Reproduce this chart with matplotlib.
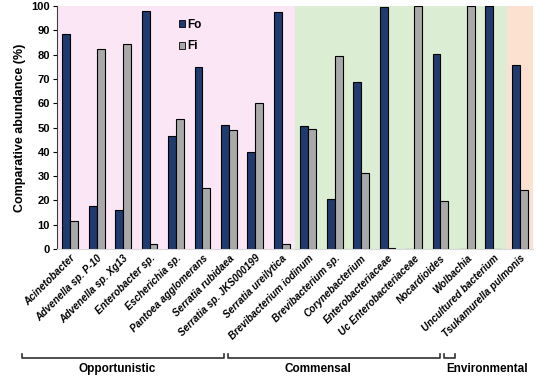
import numpy as np
import matplotlib
matplotlib.use("Agg")
import matplotlib.pyplot as plt
from matplotlib.patches import Patch

plt.rcParams['font.family'] = ['Liberation Sans', 'DejaVu Sans']
plt.rcParams['font.weight'] = 'bold'
plt.rcParams['axes.labelweight'] = 'bold'

# Data
taxa = ['Acinetobacter', 'Advenella sp. P-10', 'Advenella sp. Xg13', 'Enterobacter sp.',
        'Escherichia sp.', 'Pantoea agglomerans', 'Serratia rubidaea', 'Serratia sp. JKS000199',
        'Serratia ureilytica', 'Brevibacterium iodinum', 'Brevibacterium sp.', 'Corynebacterium',
        'Enterobacteriaceae', 'Uc Enterobacteriaceae', 'Nocardioides', 'Wolbachia',
        'Uncultured bacterium', 'Tsukamurella pulmonis']
fo = [88.5, 17.5, 16, 98, 46.5, 75, 51, 40, 97.5, 50.8, 20.4, 68.8, 99.7, 0, 80.2, 0, 100, 75.7]
fi = [11.5, 82.5, 84.3, 2, 53.5, 25, 49, 60, 2.2, 49.2, 79.5, 31.2, 0.3, 100, 19.9, 100, 0, 24.3]

groups = ['Opportunistic', 'Commensal', 'Environmental']
group_sizes = [9, 8, 1]
group_colors = ['#fbe6f5', '#dbedd3', '#fce1d1']

fig = plt.figure(figsize=(5.5, 3.83), dpi=100)
ax = fig.add_axes([57 / 550, 1 - 249 / 383, (533 - 57) / 550, (249 - 6) / 383])

x = np.arange(len(taxa)) + 0.5
w = 0.3

# shaded group backgrounds
start = 0
for size, col in zip(group_sizes, group_colors):
    ax.axvspan(start, start + size, color=col, lw=0, zorder=0)
    start += size

ax.bar(x - w / 2, fo, w, color='#1f3b6f', edgecolor='black', lw=0.8, label='Fo', zorder=2)
ax.bar(x + w / 2, fi, w, color='#a9a9a9', edgecolor='black', lw=0.8, label='Fi', zorder=2)

ax.set_xlim(0, len(taxa))
ax.set_ylim(0, 100)
ax.set_yticks(range(0, 101, 10))
ax.tick_params(axis='y', labelsize=8, length=3, width=0.8, pad=2)
for t in ax.get_yticklabels():
    t.set_fontweight('bold')
ax.set_xticks(x)
ax.set_xticklabels(taxa, rotation=45, ha='right', rotation_mode='anchor',
                   fontsize=7.2, fontstyle='italic', fontweight='bold')
ax.tick_params(axis='x', length=0, pad=3)
ax.set_ylabel('Comparative abundance (%)', fontsize=9, labelpad=4, fontweight='bold')

for s in ['top', 'right']:
    ax.spines[s].set_visible(False)
ax.spines['bottom'].set_color('#d9d9d9')
ax.spines['left'].set_color('#404040')

leg = ax.legend(handles=[Patch(facecolor='#1f3b6f', edgecolor='black', lw=0.6, label='Fo'),
                         Patch(facecolor='#a9a9a9', edgecolor='black', lw=0.6, label='Fi')],
                loc='upper left', bbox_to_anchor=(0.235, 0.99), frameon=False,
                prop={'size': 8.5, 'weight': 'bold'}, handlelength=0.5, handleheight=0.5,
                handletextpad=0.2, labelspacing=0.8)

# group brackets below the labels (figure pixel coords)
yb = 1 - 358 / 383
tick = 4 / 383
brackets = [(22, 224, 117), (228, 440, 318), (444, 455, 487)]
for (x0, x1, xt), name in zip(brackets, groups):
    fx0, fx1 = x0 / 550, x1 / 550
    fig.add_artist(plt.Line2D([fx0, fx0, fx1, fx1], [yb + tick, yb, yb, yb + tick],
                              transform=fig.transFigure, color='#303030', lw=1.2))
    fig.text(xt / 550, 1 - 369 / 383, name, ha='center', va='center', fontsize=8.5,
             fontweight='bold')

fig.savefig('out.png', dpi=100)
